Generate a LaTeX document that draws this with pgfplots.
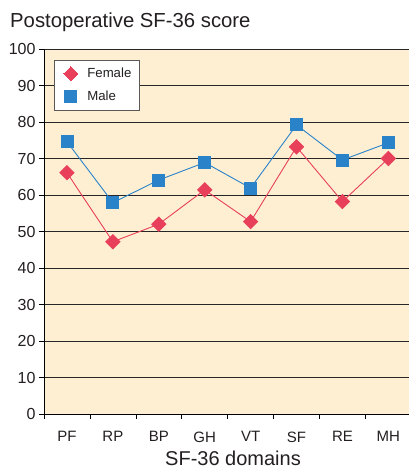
\documentclass[border=0pt]{standalone}
\usepackage{pgfplots}
\pgfplotsset{compat=1.18}
\usepackage{fontspec}
\setmainfont{Liberation Sans}
\definecolor{bgc}{HTML}{FEEFD3}
\definecolor{femc}{HTML}{E8405A}
\definecolor{malec}{HTML}{2A82C8}
\definecolor{txt}{HTML}{231F20}
\begin{document}
\begin{tikzpicture}[x=1pt,y=1pt]
\begin{axis}[
  name=ax,
  scale only axis,
  width=365pt, height=365pt,
  xmin=-0.5, xmax=7.45,
  ymin=0, ymax=100,
  ytick={0,10,...,100},
  xtick={0,...,7},
  xticklabels={PF,RP,BP,GH,VT,SF,RE,MH},
  minor xtick={-0.5,0.5,...,6.5},
  major x tick style={draw=none},
  minor x tick style={black, line width=0.6pt},
  minor tick length=5pt,
  x tick label style={yshift=-9pt, font=\fontsize{15}{17}\selectfont},
  y tick label style={font=\fontsize{16}{18}\selectfont},
  tick align=outside,
  ytick style={black, line width=0.6pt},
  major tick length=5pt,
  ymajorgrids,
  grid style={black!85, line width=0.75pt},
  axis background/.style={fill=bgc},
  axis line style={draw=none},
  axis x line*=bottom,
  axis y line*=left,
  tick label style={text=txt},
  /pgf/number format/assume math mode=true,
  clip=false,
  legend style={at={(axis cs:-0.28,97)}, anchor=north west, draw=black!65, line width=0.7pt, fill=white, font=\fontsize{13.2}{15}\selectfont, text=txt, row sep=7.5pt, inner xsep=5.5pt, inner ysep=6pt, legend cell align=left},
  legend image code/.code={\path (0pt,0pt) (24.5pt,0pt); \draw[#1, line width=0pt, draw opacity=0] plot coordinates {(10.5pt,0pt)};},
]
\addplot[color=femc, line width=0.9pt, mark=square*, mark size=5pt, mark options={fill=femc, draw=femc, rotate=45, draw opacity=1}] coordinates {
 (0,66.1) (1,47.2) (2,52.0) (3,61.4) (4,52.7) (5,73.2) (6,58.2) (7,70.0)};
\addlegendentry{Female}
\addplot[color=malec, line width=0.9pt, mark=square*, mark size=6pt, mark options={fill=malec, draw=malec, draw opacity=1}] coordinates {
 (0,74.6) (1,57.9) (2,64.1) (3,68.9) (4,61.9) (5,79.2) (6,69.6) (7,74.3)};
\addlegendentry{Male}
\draw[black, line width=0.9pt] (rel axis cs:0,0) -- (rel axis cs:0,1);
\draw[black, line width=0.9pt] (rel axis cs:0,0) -- (rel axis cs:1,0);
\end{axis}
\node[anchor=base west, inner sep=0pt, font=\fontsize{20.3}{22}\selectfont, text=txt] at ([xshift=-34pt,yshift=21pt]ax.north west) {Postoperative SF-36 score};
\node[anchor=base, inner sep=0pt, font=\fontsize{20}{22}\selectfont, text=txt] at ([xshift=6.5pt,yshift=-51pt]ax.south) {SF-36 domains};
\pgfresetboundingbox
\path[use as bounding box] ([xshift=-44pt,yshift=-54pt]ax.south west) rectangle ([yshift=49pt]ax.north east);
\end{tikzpicture}
\end{document}
